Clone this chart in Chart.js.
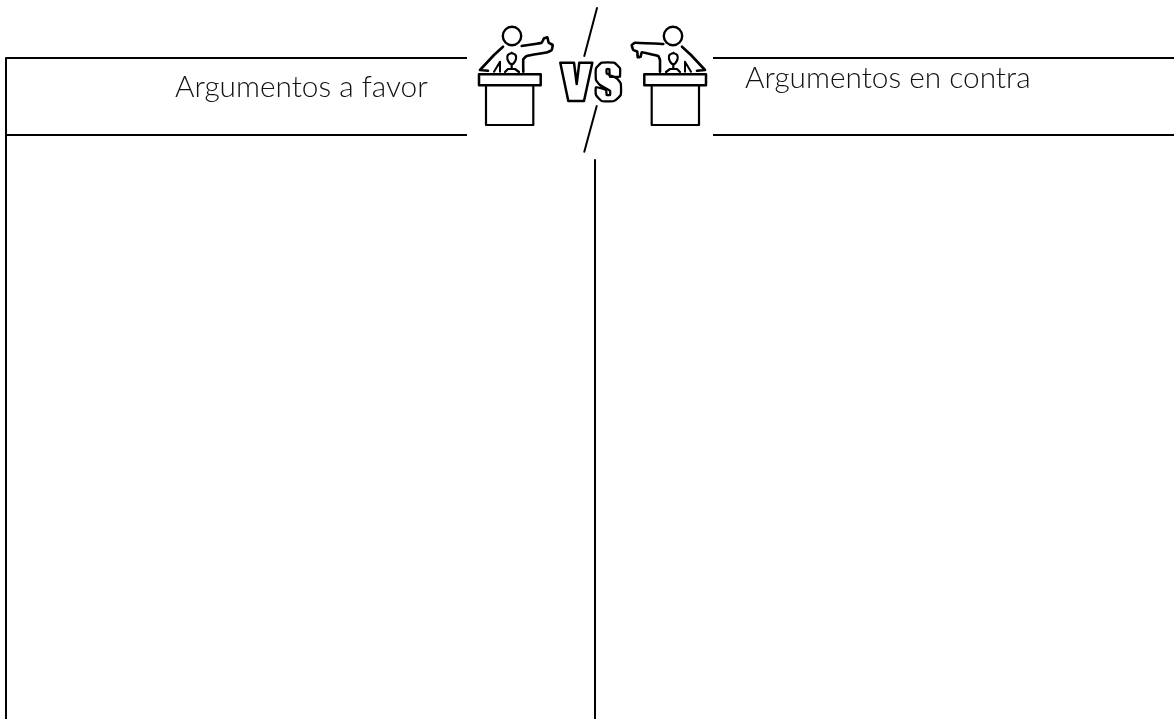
<!DOCTYPE html>
<html><head><meta charset="utf-8">
<style>html,body{margin:0;padding:0;background:#fff}canvas{display:block}</style>
<script src="https://cdn.jsdelivr.net/npm/chart.js@4"></script>
</head><body><canvas id="c" width="1174" height="719"></canvas>
<script>
// Table frame
const ruleTopLeft=[[6,58],[467,58]];
const ruleHeadLeft=[[6,135],[467,135]];
const ruleTopRight=[[713,58],[1174,58]];
const ruleHeadRight=[[713,135],[1174,135]];
const ruleLeft=[[6,58],[6,719]];
const ruleCentre=[[595,160],[595,719]];
// Header labels
const headerLabels=["Argumentos a favor","Argumentos en contra"];
const headerAnchors=[[175,97],[745,88]];
// VS slashes and letters
const slashTop=[[597,8],[584.3,56]];
const slashBottom=[[596.7,106],[584.3,151.7]];
const letterV=[[560.3,62.7],[574,62.7],[576.7,84],[579.3,62.7],[592.3,62.7],[584,101],[568.3,101],[560.3,62.7]];
const letterS=[[620,76.7],[620,68.3],[614,62.7],[601.7,62.7],[596,68.3],[596,80],[600,85],[610,90.7],[610,95],[606.7,95],[606,90],[596,87.3],[596,95],[601.7,101],[614,101],[620.7,95],[620.7,83.3],[616.7,78.3],[606.7,73.3],[606.7,69],[609.3,69],[610,76.7],[620,76.7]];
// Left speaker
const headLeft=[[512,36]];
const backLeft=[[488,70.7],[480,70],[494,55],[503,46.7]];
const armLeft=[[521.7,46],[541.7,42.7],[544,38.3],[547.3,37.3],[548.7,42.7],[552.7,45],[551.7,50],[547.3,52.3],[526.7,56],[523.3,59.3],[523.3,71.7]];
const sideLeft=[[494,71.7],[500,61.7],[500,71.7]];
const micLeft=[[511.7,53],[515.5,55],[516,59],[513.5,63.5],[511.7,64],[509.9,63.5],[507.4,59],[507.9,55],[511.7,53]];
const micStemLeft=[[511.7,64],[511.7,69]];
const micBaseLeft=[[505,72],[508,69],[515,69],[519,72]];
const lecternTopLeft=[[479,74.3],[540.7,74.3],[540.7,85.3],[479,85.3],[479,74.3]];
const lecternBoxLeft=[[486,85.3],[486,125],[533.3,125],[533.3,85.3]];
// Right speaker
const headRight=[[673,36]];
const backRight=[[697,70.7],[705,70],[691,55],[682,46.7]];
const armRight=[[663.3,44],[635,42.7],[631.7,45],[633.3,50],[637.3,51.7],[637.7,57.3],[640.7,56.7],[641.7,52.3],[658.3,56],[660,60],[660,71.7]];
const sideRight=[[691,71.7],[685,61.7],[685,71.7]];
const micRight=[[673.3,53],[677.1,55],[677.6,59],[675.1,63.5],[673.3,64],[671.5,63.5],[669,59],[669.5,55],[673.3,53]];
const micStemRight=[[673.3,64],[673.3,69]];
const micBaseRight=[[666,72],[670,69],[677,69],[680,72]];
const lecternTopRight=[[644.3,74.3],[706,74.3],[706,85.3],[644.3,85.3],[644.3,74.3]];
const lecternBoxRight=[[651.7,85.3],[651.7,125],[699,125],[699,85.3]];

const pts=a=>a.map(p=>({x:p[0],y:p[1]}));
const ink='#000';
const line=(a,w,t)=>({data:pts(a),showLine:true,borderColor:ink,backgroundColor:ink,borderWidth:w,pointRadius:0,tension:t||0,fill:false,clip:false,borderJoinStyle:'round',borderCapStyle:'round'});
const rule=a=>Object.assign(line(a,2),{borderCapStyle:'butt'});
const head=a=>({data:pts(a),showLine:false,pointRadius:9.2,pointBorderWidth:2.4,pointBorderColor:ink,pointBackgroundColor:'#fff',clip:false});

const headerText={id:'headerText',afterDatasetsDraw(ch){
  const g=ch.ctx,x=ch.scales.x,y=ch.scales.y;
  g.save();g.fillStyle='#111';g.font='300 29.8px Lato';g.textBaseline='alphabetic';g.textAlign='left';
  headerLabels.forEach((s,i)=>g.fillText(s,x.getPixelForValue(headerAnchors[i][0]),y.getPixelForValue(headerAnchors[i][1])));
  g.restore();
}};

new Chart(document.getElementById('c'),{
  type:'scatter',
  data:{datasets:[
    rule(ruleTopLeft),rule(ruleHeadLeft),rule(ruleTopRight),rule(ruleHeadRight),rule(ruleLeft),rule(ruleCentre),
    line(slashTop,2),line(slashBottom,2),line(letterV,2.5),line(letterS,2.3,0.15),
    head(headLeft),line(backLeft,2.6),line(armLeft,2.6,0.1),line(sideLeft,2),line(micLeft,2.2,0.3),line(micStemLeft,2.2),line(micBaseLeft,2.2),line(lecternTopLeft,2.5),line(lecternBoxLeft,2.2),
    head(headRight),line(backRight,2.6),line(armRight,2.6,0.1),line(sideRight,2),line(micRight,2.2,0.3),line(micStemRight,2.2),line(micBaseRight,2.2),line(lecternTopRight,2.5),line(lecternBoxRight,2.2)
  ]},
  options:{responsive:false,animation:false,events:[],
    layout:{padding:0,autoPadding:false},
    plugins:{legend:{display:false},tooltip:{enabled:false},title:{display:false}},
    scales:{x:{type:'linear',display:false,min:0,max:1174},y:{type:'linear',display:false,min:0,max:719,reverse:true}}
  },
  plugins:[headerText]
});
</script></body></html>
